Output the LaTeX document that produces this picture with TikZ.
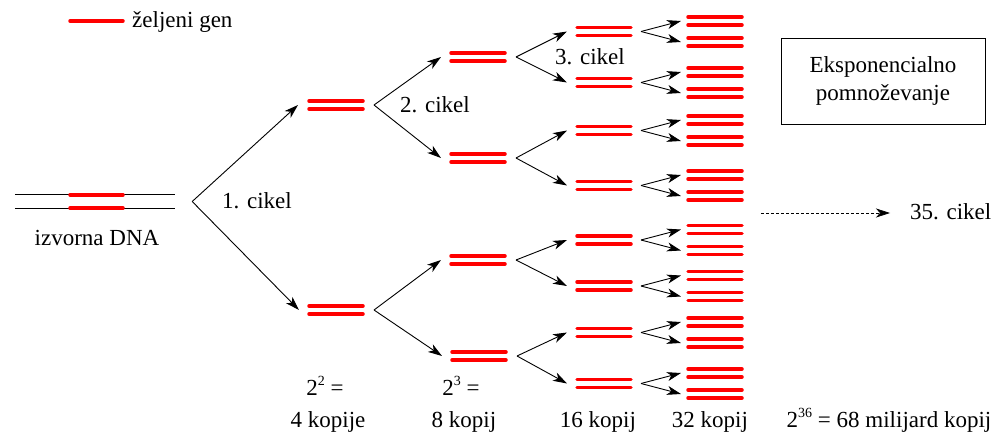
\documentclass[tikz,border=0pt]{standalone}
\usepackage{fontspec}
\setmainfont{Liberation Serif}
\definecolor{GEN}{RGB}{255,0,0}
\usetikzlibrary{arrows.meta,positioning}
\newcommand\eksp[1]{\raisebox{0.42em}{\fontsize{14}{14}\selectfont #1}}

\begin{document}
\begin{tikzpicture}[x=1pt,y=-1pt,font=\fontsize{23}{27.6}\selectfont,
    gen/.style={draw=GEN,line width=3.5pt,line cap=round},
    kopija/.style={minimum width=54pt,minimum height=8pt,inner sep=0pt,outer sep=0pt,
      append after command={(\tikzlastnode.north west) edge[gen] (\tikzlastnode.north east)
                            (\tikzlastnode.south west) edge[gen] (\tikzlastnode.south east)}},
    strel/.style={-{Stealth[length=14pt,width=9pt,inset=4pt]},line width=0.9pt},
    besedilo/.style={anchor=base,inner sep=0pt}]
            \useasboundingbox (0,0) rectangle (997,433);

            \node[besedilo,anchor=base west] (legenda) at (132,28) {željeni gen};
            \draw[gen] ([xshift=-62pt,yshift=7pt]legenda.base west) -- ([xshift=-9pt,yshift=7pt]legenda.base west);

            \node[minimum width=160pt,minimum height=13pt,inner sep=0pt] (dna) at (95,201.5) {};
            \draw[line width=0.9pt] (dna.north west) -- (dna.north east) (dna.south west) -- (dna.south east);
            \draw[gen] ([xshift=-25pt]dna.north) -- ([xshift=28pt]dna.north)
                       ([xshift=-25pt]dna.south) -- ([xshift=28pt]dna.south);
            \node[besedilo] (izvor) at (97,246) {izvorna DNA};

            \node[kopija] (g2a) at (336,105) {};
            \node[kopija] (g2b) at (336,310) {};
            \node[kopija] (g3a) at (478,57) {};
            \node[kopija] (g3b) at (478,158) {};
            \node[kopija] (g3c) at (478,260) {};
            \node[kopija] (g3d) at (479,356) {};
            \foreach \i/\y in {1/31.5,2/82.5,3/130.5,4/185.5,5/240,6/286,7/332.5,8/383.5} {
              \node[kopija] (g4-\i) at (604,\y) {};
              \node[kopija] (g5-\i a) at (715,\y-10.5) {};
              \node[kopija] (g5-\i b) at (715,\y+10.5) {};
              \coordinate (v4-\i) at ([xshift=10pt]g4-\i.east);
              \draw[strel] (v4-\i) -- ([xshift=-7pt]g5-\i a.west);
              \draw[strel] (v4-\i) -- ([xshift=-7pt]g5-\i b.west);
            }

            \coordinate (v1) at ([xshift=17pt]dna.east);
            \draw[strel] (v1) -- ([xshift=-11pt]g2a.west);
            \draw[strel] (v1) -- ([xshift=-10pt]g2b.west);
            \foreach \p/\a/\b in {g2a/g3a/g3b,g2b/g3c/g3d,g3a/g4-1/g4-2,g3b/g4-3/g4-4,g3c/g4-5/g4-6,g3d/g4-7/g4-8} {
              \coordinate (v-\p) at ([xshift=11pt]\p.east);
              \draw[strel] (v-\p) -- ([xshift=-10pt]\a.west);
              \draw[strel] (v-\p) -- ([xshift=-10pt]\b.west);
            }

            \node[besedilo,anchor=base west] (cikel1) at (222,208) {1. cikel};
            \node[besedilo,anchor=base west] (cikel2) at (400,113) {2. cikel};
            \node[besedilo,anchor=base west] (cikel3) at (555,65) {3. cikel};

            \node[draw,line width=0.9pt,minimum width=204pt,minimum height=86pt,align=center] (okvir) at (883,81) {Eksponencialno\\pomnoževanje};

            \node[besedilo,anchor=base west] (cikel35) at (910,220) {35. cikel};
            \coordinate (pike) at (761,213);
            \draw[strel,line width=0.7pt,dash pattern=on 3pt off 2pt] (pike) -- ([xshift=-20pt,yshift=7pt]cikel35.base west);

            \node[besedilo] (st2) at (325,395) {2\eksp{2} =};
            \node[besedilo] (k2) at (328,427) {4 kopije};
            \node[besedilo] (st3) at (461,395) {2\eksp{3} =};
            \node[besedilo] (k3) at (464,427) {8 kopij};
            \node[besedilo] (k4) at (598,427) {16 kopij};
            \node[besedilo] (k5) at (710,427) {32 kopij};
            \node[besedilo] (k35) at (889,427) {2\eksp{36} = 68 milijard kopij};
        \end{tikzpicture}
\end{document}
